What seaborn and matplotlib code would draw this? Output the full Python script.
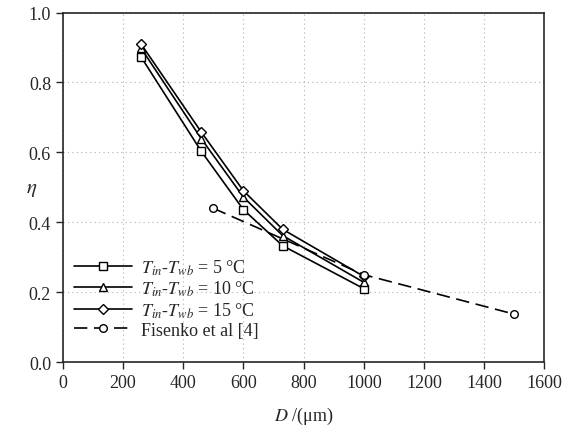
import numpy as np
import pandas as pd
import seaborn as sns
import matplotlib.pyplot as plt

# data
d_model = [260, 460, 600, 730, 1000]
eta_5 = [0.873, 0.603, 0.436, 0.333, 0.210]
eta_10 = [0.898, 0.639, 0.472, 0.362, 0.228]
eta_15 = [0.910, 0.658, 0.490, 0.380, 0.245]

d_fisenko = [500, 1000, 1500]
eta_fisenko = [0.44, 0.25, 0.137]

labels = [r"$T_{in}$-$T_{wb}$ = 5 °C",
          r"$T_{in}$-$T_{wb}$ = 10 °C",
          r"$T_{in}$-$T_{wb}$ = 15 °C",
          "Fisenko et al [4]"]

sns.set_style("ticks")
plt.rcParams["font.family"] = ["Liberation Serif", "DejaVu Serif"]
plt.rcParams["mathtext.fontset"] = "stix"

fig = plt.figure(figsize=(5.66, 4.39), dpi=100)
ax = fig.add_axes([0.111, 0.173, 0.851, 0.796])

series = [(d_model, eta_5, "s", "-"),
          (d_model, eta_10, "^", "-"),
          (d_model, eta_15, "D", "-"),
          (d_fisenko, eta_fisenko, "o", (0, (8, 4)))]

for (x, y, m, ls), lab in zip(series, labels):
    sns.lineplot(x=x, y=y, ax=ax, color="black", linewidth=1.2,
                 linestyle=ls, marker=m, markersize=5.5 if m != "D" else 4.8,
                 markerfacecolor="white", markeredgecolor="black",
                 markeredgewidth=1.0, label=lab)

ax.set_xlim(0, 1600)
ax.set_ylim(0, 1.0)
ax.set_xticks(np.arange(0, 1601, 200))
ax.set_yticks(np.arange(0, 1.01, 0.2))
ax.set_yticklabels([f"{v:.1f}" for v in np.arange(0, 1.01, 0.2)])
ax.grid(True, linestyle=(0, (1, 3)), color="#b0b0b0", linewidth=0.8)
ax.tick_params(direction="out", length=5, labelsize=13, width=1)
for s in ax.spines.values():
    s.set_linewidth(1.2)
    s.set_visible(True)

ax.set_xlabel(r"$D$ /(μm)", fontsize=13, labelpad=10)
ax.set_ylabel(r"$\eta$", fontsize=15, rotation=0)
ax.yaxis.set_label_coords(-0.065, 0.47)

leg = ax.legend(loc="lower left", frameon=False, fontsize=13,
                handlelength=3.2, handletextpad=0.5, labelspacing=0.12,
                bbox_to_anchor=(-0.01, 0.02))

fig.savefig("out.png", dpi=100)
